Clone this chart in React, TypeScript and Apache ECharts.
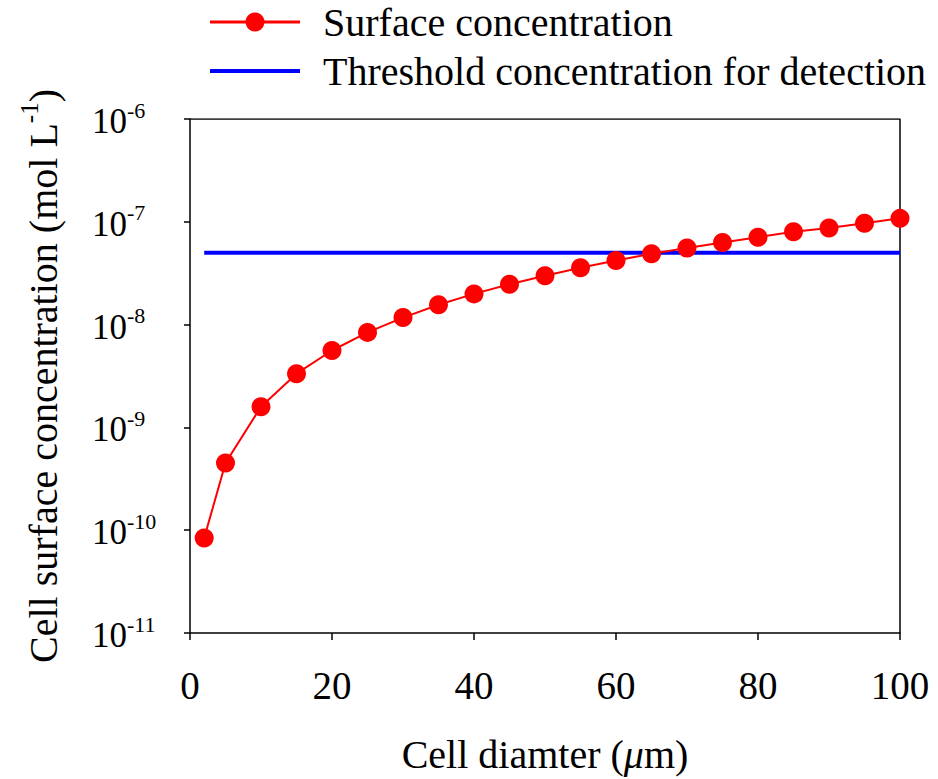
import React, { useEffect, useRef } from "react";
import * as echarts from "echarts";

const diameters = [2, 5, 10, 15, 20, 25, 30, 35, 40, 45, 50, 55, 60, 65, 70, 75, 80, 85, 90, 95, 100];
const surfaceConc = [8.4e-11, 4.5e-10, 1.59e-9, 3.33e-9, 5.6e-9, 8.4e-9, 1.17e-8, 1.56e-8, 1.99e-8, 2.47e-8, 2.99e-8, 3.57e-8, 4.2e-8, 4.89e-8, 5.57e-8, 6.3e-8, 7.08e-8, 8.0e-8, 8.7e-8, 9.7e-8, 1.08e-7];
const thresholdX = [2, 100];
const thresholdY = [5e-8, 5e-8];
const seriesNames = ["Surface concentration", "Threshold concentration for detection"];

const FONT = "'Liberation Serif', 'Times New Roman', serif";

export default function App() {
  const ref = useRef<HTMLDivElement>(null);
  useEffect(() => {
    if (!ref.current) return;
    const chart = echarts.init(ref.current, null, { renderer: "svg" });
    chart.setOption({
      animation: false,
      backgroundColor: "#ffffff",
      textStyle: { fontFamily: FONT, color: "#000" },
      grid: { left: 190, right: 38, top: 119, bottom: 143, containLabel: false },
      xAxis: {
        type: "value",
        min: 0,
        max: 100,
        interval: 20,
        name: "{a|Cell diamter (}{i|μ}{a|m)}",
        nameLocation: "middle",
        nameGap: 101,
        nameTextStyle: {
          rich: {
            a: { fontFamily: FONT, fontSize: 40, color: "#000" },
            i: { fontFamily: FONT, fontSize: 40, color: "#000", fontStyle: "italic" },
          },
        },
        axisLine: { show: true, lineStyle: { color: "#000", width: 1.5 } },
        axisTick: { show: true, inside: false, length: 7, lineStyle: { color: "#000", width: 1.5 } },
        axisLabel: { fontFamily: FONT, fontSize: 39, color: "#000", margin: 33 },
        splitLine: { show: false },
      },
      yAxis: {
        type: "log",
        logBase: 10,
        min: 1e-11,
        max: 1e-6,
        name: "{a|Cell surface concentration (mol L}{s|-1}{a|)}",
        nameLocation: "middle",
        nameRotate: 90,
        nameGap: 127,
        nameTextStyle: {
          rich: {
            a: { fontFamily: FONT, fontSize: 40, color: "#000", lineHeight: 46, verticalAlign: "bottom" },
            s: { fontFamily: FONT, fontSize: 25, color: "#000", lineHeight: 46, verticalAlign: "top", padding: [0, 0, 12, 0] },
          },
        },
        axisLine: { show: true, lineStyle: { color: "#000", width: 1.5 } },
        axisTick: { show: true, inside: false, length: 6, lineStyle: { color: "#000", width: 1.5 } },
        axisLabel: {
          margin: 98,
          align: "left",
          formatter: (v: number) => `{b|10}{s|${Math.round(Math.log10(v))}}`,
          rich: {
            b: { fontFamily: FONT, fontSize: 35, color: "#000", lineHeight: 40, verticalAlign: "bottom" },
            s: { fontFamily: FONT, fontSize: 22, color: "#000", lineHeight: 40, verticalAlign: "top", padding: [0, 0, 10, 0] },
          },
        },
        splitLine: { show: false },
      },
      graphic: [
        { type: "line", shape: { x1: 210, y1: 22, x2: 300, y2: 22 }, style: { stroke: "#ff0000", lineWidth: 3 }, silent: true },
        { type: "circle", shape: { cx: 255, cy: 22, r: 9.5 }, style: { fill: "#ff0000" }, silent: true },
        {
          type: "text", x: 323, y: 22,
          style: { text: seriesNames[0], fontFamily: FONT, fontSize: 40, fill: "#000", verticalAlign: "middle", align: "left" },
          silent: true,
        },
        { type: "line", shape: { x1: 210, y1: 71, x2: 300, y2: 71 }, style: { stroke: "#0000ff", lineWidth: 4 }, silent: true },
        {
          type: "text", x: 323, y: 71,
          style: { text: seriesNames[1], fontFamily: FONT, fontSize: 40, fill: "#000", verticalAlign: "middle", align: "left" },
          silent: true,
        },
      ],
      series: [
        {
          name: seriesNames[0],
          type: "line",
          data: diameters.map((d, i) => [d, surfaceConc[i]]),
          symbol: "circle",
          symbolSize: 19,
          itemStyle: { color: "#ff0000" },
          lineStyle: { color: "#ff0000", width: 2 },
          z: 3,
        },
        {
          name: seriesNames[1],
          type: "line",
          data: thresholdX.map((d, i) => [d, thresholdY[i]]),
          symbol: "none",
          itemStyle: { color: "#0000ff" },
          lineStyle: { color: "#0000ff", width: 4 },
          z: 2,
        },
        {
          name: "frame",
          type: "line",
          data: [[0, 1e-6], [100, 1e-6], [100, 1e-11]],
          symbol: "none",
          silent: true,
          lineStyle: { color: "#000", width: 1.5 },
          z: 1,
        },
      ],
    });
    return () => chart.dispose();
  }, []);
  return <div ref={ref} style={{ position: "absolute", left: 0, top: 0, width: 938, height: 779 }} />;
}
